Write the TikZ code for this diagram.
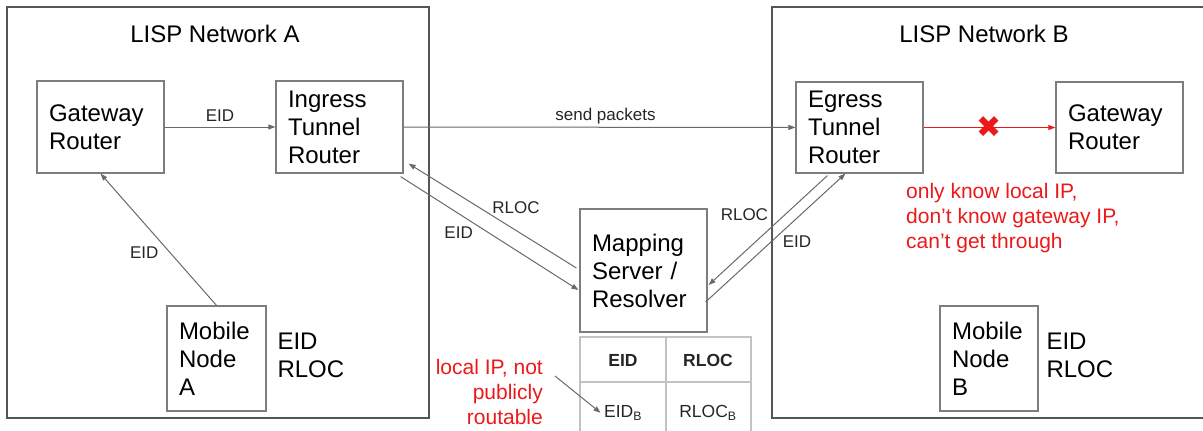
\documentclass[tikz,border=0pt]{standalone}
\usepackage{fontspec}
\setmainfont{Liberation Sans}
\newfontfamily\symfont{DejaVu Sans}
\usetikzlibrary{arrows.meta}
\definecolor{linegray}{RGB}{105,105,105}
\definecolor{boxgray}{RGB}{125,125,125}
\definecolor{netgray}{RGB}{85,85,85}
\definecolor{tblgray}{RGB}{195,195,195}
\definecolor{alertred}{RGB}{235,25,25}

\begin{document}
\begin{tikzpicture}[x=1pt,y=-1pt,
    net/.style={draw=netgray, line width=1.5pt},
    box/.style={draw=boxgray, line width=1.2pt, align=left, inner xsep=12pt, inner ysep=0pt, font=\fontsize{24}{28}\selectfont},
    big/.style={font=\fontsize{24}{28}\selectfont},
    lbl/.style={font=\fontsize{17}{20}\selectfont, text=black!85},
    cell/.style={font=\fontsize{17.5}{21}\selectfont, anchor=base, text=black!85},
    note/.style={text=alertred, font=\fontsize{21}{25}\selectfont, inner sep=0pt},
    arr/.style={draw=linegray, line width=1pt, -{Triangle[length=7pt,width=5pt]}}]
    \useasboundingbox (0,0) rectangle (1203,431);

    \draw[net] (7,7) rectangle (429,418);
    \draw[net] (1203,7) -- (772,7) -- (772,418) -- (1203,418);
    \node[big] (titleA) at (215,34) {LISP Network A};
    \node[big] (titleB) at (984,34) {LISP Network B};

    \node[box, text width=103pt, minimum height=92pt] (gwA) at (100.5,127) {Gateway\\Router};
    \node[box, text width=103pt, minimum height=92pt] (itr) at (339.5,127) {Ingress\\Tunnel\\Router};
    \node[box, text width=75pt, minimum height=105pt] (mnA) at (216.5,358.5) {Mobile\\Node\\A};
    \node[big, anchor=west, align=left] (addrA) at (274,355) {EID\\RLOC};

    \node[box, text width=103pt, minimum height=123pt] (map) at (643.5,270.5) {Mapping\\Server /\\Resolver};

    \node[box, text width=103pt, minimum height=91pt] (etr) at (859.5,127.5) {Egress\\Tunnel\\Router};
    \node[box, text width=103pt, minimum height=91pt] (gwB) at (1119.5,127.5) {Gateway\\Router};
    \node[box, text width=74pt, minimum height=105pt] (mnB) at (989,358.5) {Mobile\\Node\\B};
    \node[big, anchor=west, align=left] (addrB) at (1043,355) {EID\\RLOC};

    \draw[tblgray, line width=1.2pt] (580,431) -- (580,337) -- (751,337) -- (751,431);
    \draw[tblgray, line width=1.2pt] (666,337) -- (666,431);
    \draw[tblgray, line width=1.2pt] (580,382) -- (751,382);
    \node[cell] (hEID) at (623,366.5) {\textbf{EID}};
    \node[cell] (hRLOC) at (708,366.5) {\textbf{RLOC}};
    \node[cell] (eidb) at (623,417.5) {EID\textsubscript{B}};
    \node[cell] (rlocb) at (708,417.5) {RLOC\textsubscript{B}};

    \node[note, align=right, anchor=north east] (lip) at (543,359) {local IP, not\\publicly\\routable};
    \node[note, align=left, anchor=north west] (why) at (906,183) {only know local IP,\\don't know gateway IP,\\can't get through};

    \draw[arr] (gwA) -- node[lbl, above, inner sep=5pt] {EID} (itr);
    \draw[arr] (mnA.north) -- node[lbl, pos=0.47, anchor=north east, inner sep=3pt] {EID} (gwA.south);
    \draw[arr] (itr) -- node[lbl, above, inner sep=3pt, xshift=6pt] {send packets} (etr);
    \draw[arr] ([shift={(-3,-2.5)}]map.west) -- node[lbl, pos=0.51, anchor=south west, inner sep=1pt] {RLOC} ([shift={(5,-10)}]itr.south east);
    \draw[arr] ([shift={(-3,3)}]itr.south east) -- node[lbl, pos=0.42, anchor=north east, inner sep=2pt] {EID} ([shift={(-1,19.5)}]map.west);
    \draw[arr] ([shift={(32,2)}]etr.south west) -- node[lbl, pos=0.42, anchor=south east, inner sep=0pt, xshift=-9pt] {RLOC} ([shift={(1,14.5)}]map.east);
    \draw[arr] ([shift={(-2,31.5)}]map.east) -- node[lbl, pos=0.535, anchor=north west, inner sep=2pt] {EID} ([shift={(50,0)}]etr.south west);
    \draw[arr, draw=alertred] (etr) -- node[text=alertred, inner sep=0pt, font=\symfont\fontsize{30}{30}\selectfont] {✖} (gwB);
    \draw[arr] ([shift={(12,17)}]lip.north east) -- (eidb.west);
\end{tikzpicture}
\end{document}
